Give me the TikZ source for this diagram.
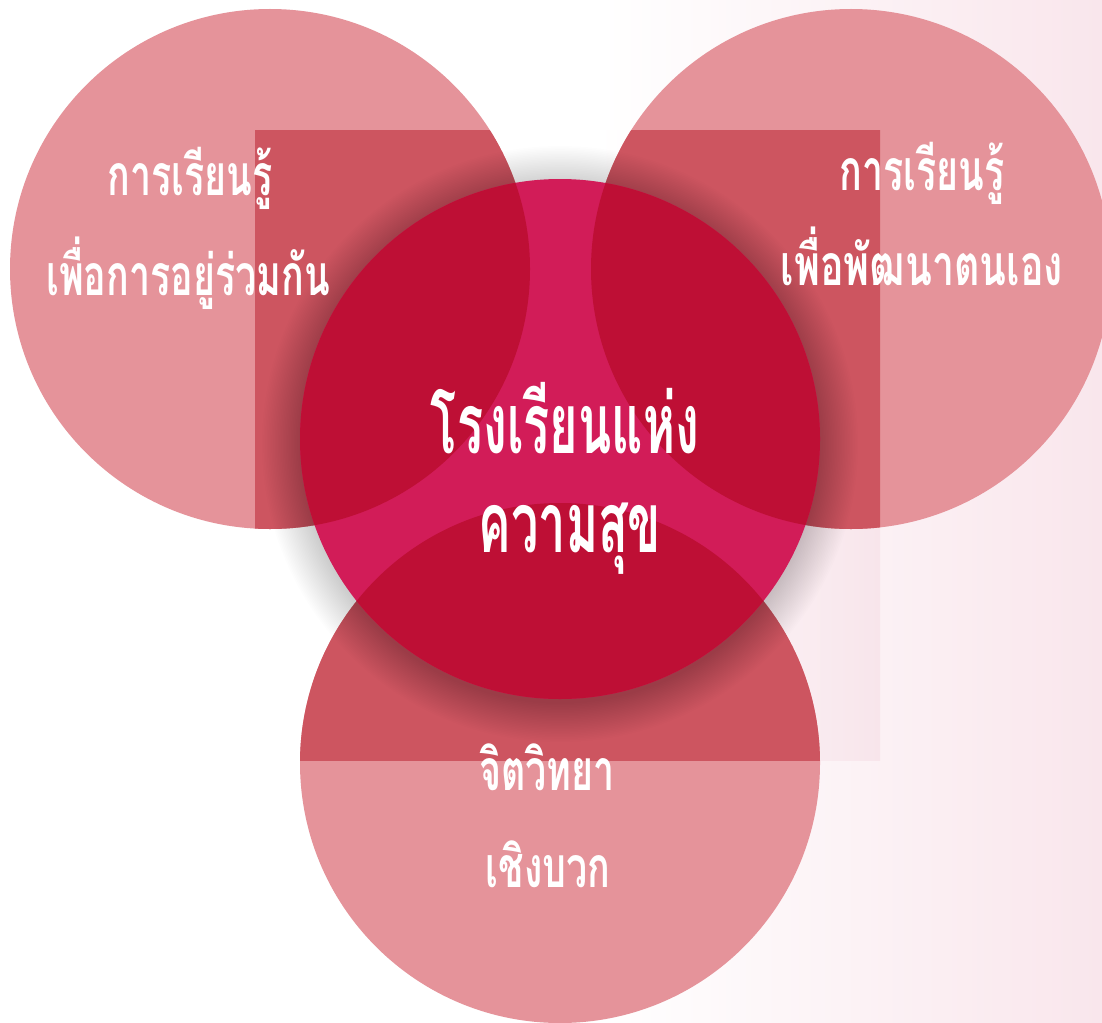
\documentclass[tikz,border=0pt]{standalone}
\usepackage{fontspec}
\newfontfamily\thaifont[Script=Thai, FakeStretch=0.66]{Loma}
\newfontfamily\thaibig[Script=Thai, FakeStretch=0.58]{Loma}
\definecolor{bgpink}{HTML}{F9E6EC}
\definecolor{sqpink}{HTML}{F8E5EB}
\definecolor{circpink}{HTML}{E5939A}
\definecolor{sqdark}{HTML}{CD5560}
\definecolor{cmag}{HTML}{D21C58}
\definecolor{cred}{HTML}{BE0F35}
\tikzset{
  txt/.style={text=white, anchor=base, inner sep=0pt, font=\thaifont\bfseries\fontsize{57}{66}\selectfont},
  bigtxt/.style={text=white, anchor=base, inner sep=0pt, font=\thaibig\bfseries\fontsize{84}{96}\selectfont},
}
\begin{document}
\begin{tikzpicture}[x=1pt,y=-1pt]
\useasboundingbox (0,0) rectangle (1102,1022);
\fill[white] (0,0) rectangle (1102,1022);
\shade[left color=white,right color=bgpink] (600,0) rectangle (1102,1022);
\fill[white] (255,130) rectangle (600,760);
\shade[left color=white,right color=sqpink] (600,130) rectangle (880,760);
% outer circles
\fill[circpink] (270,269) circle (260) (851,269) circle (260) (560,763) circle (260);
\begin{scope}
  \clip (255,130) rectangle (880,760);
  \fill[sqdark] (270,269) circle (260) (851,269) circle (260) (560,763) circle (260);
\end{scope}
% shadow
\foreach \i in {1,...,25} \fill[black,opacity=0.0075] (560,444) circle ({258+1.6*\i});
% central circle
\fill[cmag] (560,439) circle (260);
\begin{scope}
  \clip (560,439) circle (260);
  \fill[cred] (270,269) circle (260) (851,269) circle (260) (560,763) circle (260);
\end{scope}
% texts
\node[txt] (tl1) at (190,195) {การเรียนรู้};
\node[txt] (tl2) at (188,295) {เพื่อการอยู่ร่วมกัน};
\node[txt] (tr1) at (922,190) {การเรียนรู้};
\node[txt] (tr2) at (922,285) {\addfontfeature{FakeStretch=0.69}เพื่อพัฒนาตนเอง};
\node[bigtxt] (c1) at (565,453) {โรงเรียนแห่ง};
\node[bigtxt] (c2) at (570,552) {ความสุข};
\node[txt] (b1) at (547,790) {จิตวิทยา};
\node[txt] (b2) at (548,887) {เชิงบวก};
\end{tikzpicture}
\end{document}
